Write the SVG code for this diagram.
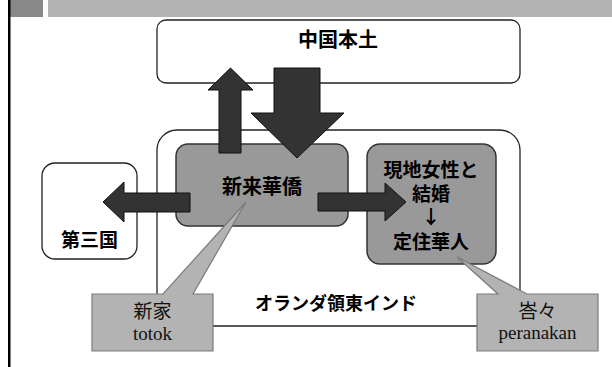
<svg xmlns="http://www.w3.org/2000/svg" width="612" height="367" viewBox="0 0 612 367">
<style>
.wbox{fill:#ffffff;stroke:#222222;stroke-width:1.3}
.gbox{fill:#999999;stroke:#333333;stroke-width:1.5}
.arrow{fill:#333333;stroke:#111111;stroke-width:1}
.call{fill:#b3b3b3;stroke:#7a7a7a;stroke-width:1.2}
.jb{font-family:"Noto Sans CJK JP","Noto Sans",sans-serif;font-weight:bold;fill:#000;text-anchor:middle}
.jn{font-family:"Noto Sans CJK JP","Noto Sans",sans-serif;font-weight:normal;fill:#111;text-anchor:middle}
.lat{font-family:"Liberation Serif","Times New Roman",serif;fill:#111;text-anchor:middle}
</style>
<rect x="0" y="0" width="612" height="367" fill="#ffffff"/>
<g id="header">
<rect x="10" y="0" width="33" height="17" fill="#888888"/>
<rect x="48" y="0" width="564" height="17" fill="#b3b3b3"/>
<rect x="8" y="0" width="2.5" height="367" fill="#000000"/>
</g>
<g id="dutch-east-indies">
<rect class="wbox" x="157" y="130" width="363" height="196" rx="20" ry="20"/>
<text class="jb" x="336" y="310" font-size="18">オランダ領東インド</text>
</g>
<g id="china">
<rect class="wbox" x="157" y="20" width="363" height="63" rx="9" ry="9"/>
<text class="jb" x="338" y="47" font-size="20">中国本土</text>
</g>
<g id="third-country">
<rect class="wbox" x="42" y="163" width="95" height="96" rx="13" ry="13"/>
<text class="jb" x="89.5" y="247" font-size="19">第三国</text>
</g>
<g id="new-chinese">
<rect class="gbox" x="176" y="144" width="172" height="82" rx="12" ry="12"/>
<text class="jb" x="262" y="194" font-size="20">新来華僑</text>
</g>
<g id="settled-chinese">
<rect class="gbox" x="367" y="144" width="129" height="120" rx="13" ry="13"/>
<text class="jb" x="431" y="177" font-size="19">現地女性と</text>
<text class="jb" x="431" y="201" font-size="19">結婚</text>
<text class="jb" x="431" y="224" font-size="19">↓</text>
<text class="jb" x="431" y="249" font-size="19">定住華人</text>
</g>
<g id="connectors">
<path class="arrow" d="M219,153 L219,90 L208,90 L230.5,68 L253,90 L241,90 L241,153 Z"/>
<path class="arrow" d="M274,68 L320,68 L320,113 L344,113 L297,158 L251,113 L274,113 Z"/>
<path class="arrow" d="M190,193 L124,193 L124,182 L103,202 L124,222 L124,212 L190,212 Z"/>
<path class="arrow" d="M318,193 L385,193 L385,183 L406,202 L385,221 L385,211 L318,211 Z"/>
</g>
<g id="callout-totok">
<path class="call" d="M92,294 L163,294 L246,202 L193,294 L213,294 L213,351 L92,351 Z"/>
<text class="jn" x="152.5" y="318" font-size="19">新家</text>
<text class="lat" x="152.5" y="340" font-size="19">totok</text>
</g>
<g id="callout-peranakan">
<path class="call" d="M477,294 L498,294 L457,257 L527,294 L598,294 L598,351 L477,351 Z"/>
<text class="jn" x="537.5" y="318" font-size="19">峇々</text>
<text class="lat" x="537.5" y="339" font-size="19">peranakan</text>
</g>
</svg>
